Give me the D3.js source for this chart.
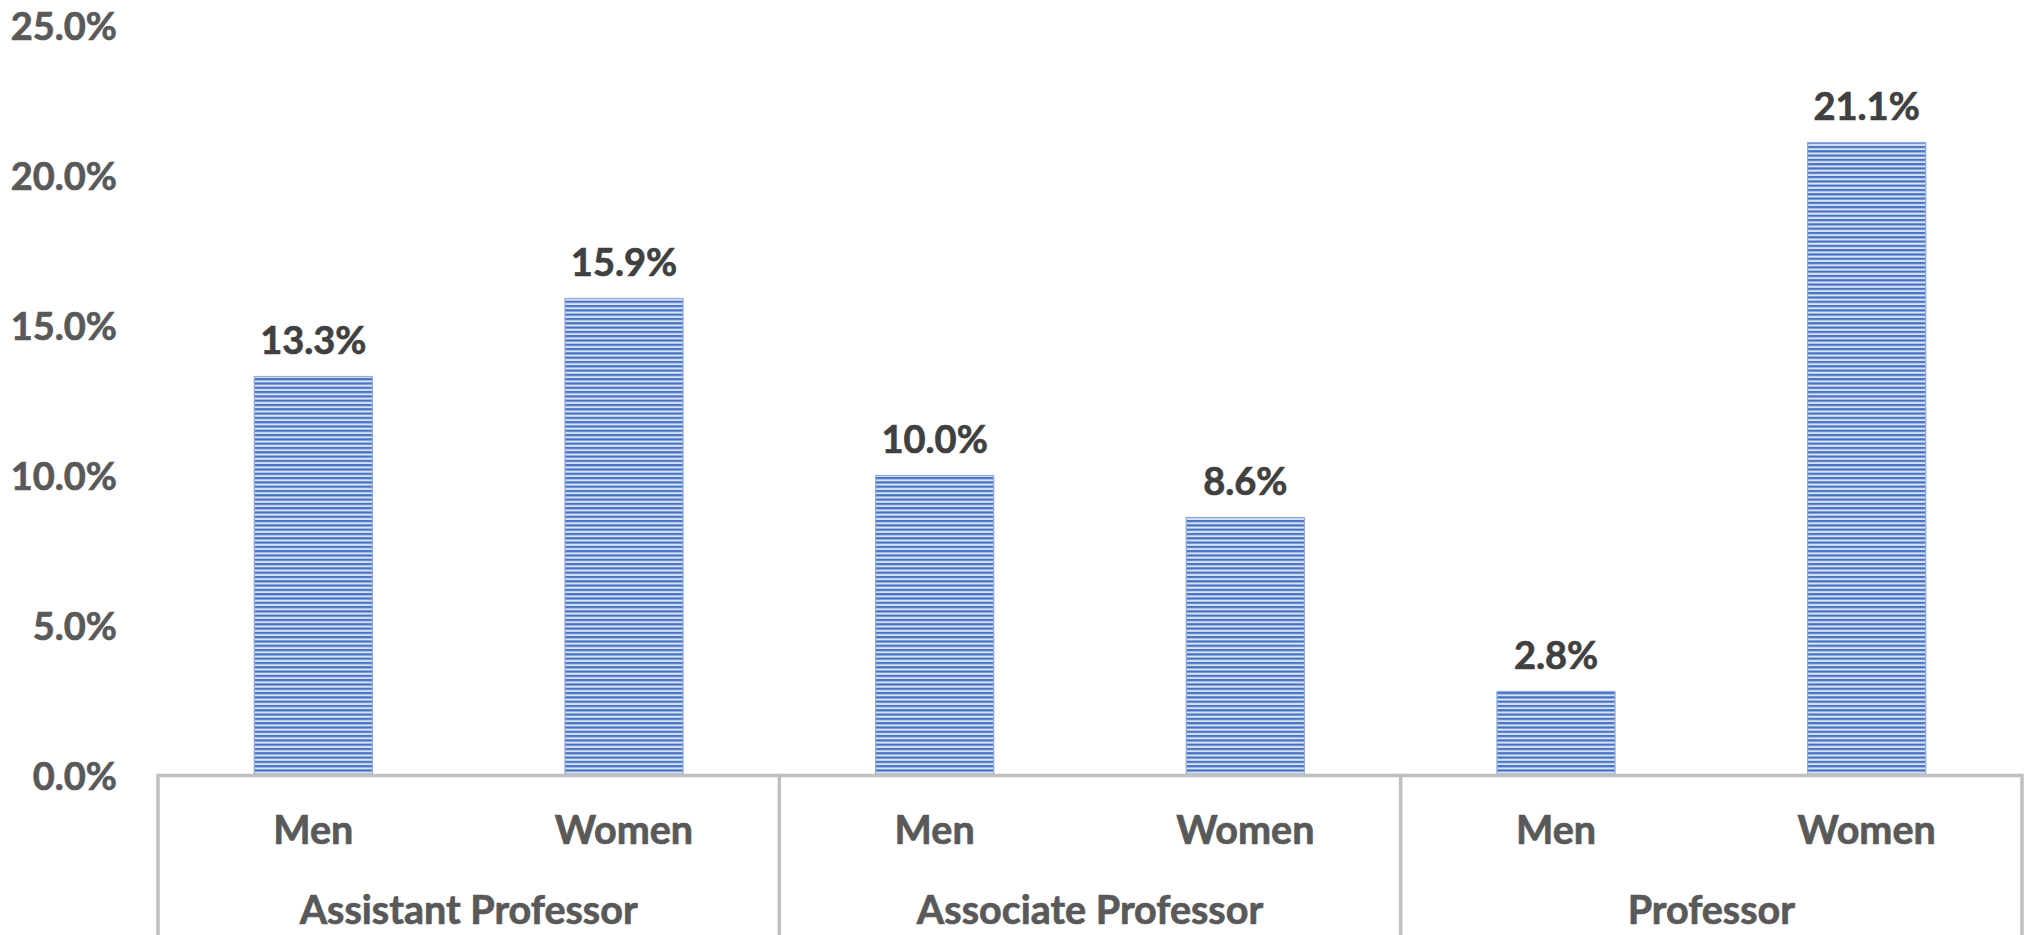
<!DOCTYPE html>
<html>
<head>
<meta charset="utf-8">
<script src="https://cdn.jsdelivr.net/npm/d3@7"></script>
<style>
  body { margin: 0; background: #fff; }
  text { font-family: Lato, 'Open Sans', sans-serif; font-weight: 700; }
</style>
</head>
<body>
<div id="chart"></div>
<script>
const ranks = ['Assistant Professor', 'Associate Professor', 'Professor'];
const genders = ['Men', 'Women'];
const menValues = [0.133, 0.100, 0.028];
const womenValues = [0.159, 0.086, 0.211];
const yTicks = [0, 0.05, 0.10, 0.15, 0.20, 0.25];

const width = 2030;
const height = 935;
const margin = {top: 25.5, right: 8, bottom: 159.5, left: 158};
const innerWidth = width - margin.left - margin.right;
const innerHeight = height - margin.top - margin.bottom;

const bars = [];
ranks.forEach((r, i) => {
    bars.push({rank: r, gender: 'Men', value: menValues[i]});
    bars.push({rank: r, gender: 'Women', value: womenValues[i]});
});

const svg = d3.select('#chart')
    .append('svg')
        .attr('width', width)
        .attr('height', height);

// striped fill like the excel pattern
const pat = svg.append('defs')
    .append('pattern')
        .attr('id', 'stripes')
        .attr('patternUnits', 'userSpaceOnUse')
        .attr('width', 10)
        .attr('height', 4.3);
pat.append('rect')
    .attr('width', 10).attr('height', 4.3)
    .attr('fill', '#dae3f3');
pat.append('rect')
    .attr('width', 10).attr('height', 2.2)
    .attr('fill', '#4472c4');

const g = svg.append('g')
    .attr('transform', `translate(${margin.left},${margin.top})`);

const x0 = d3.scaleBand()
    .domain(ranks)
    .range([0, innerWidth]);

const x1 = d3.scaleBand()
    .domain(genders)
    .range([0, x0.bandwidth()])
    .paddingInner(0.62)
    .paddingOuter(0.31);

const y = d3.scaleLinear()
    .domain([0, 0.25])
    .range([innerHeight, 0]);

const numSize = '38px';
const wordSize = '39.5px';

// y axis labels only
const yAxis = g.append('g')
    .attr('transform', 'translate(-38,0)')
    .call(d3.axisLeft(y).tickValues(yTicks).tickFormat(d3.format('.1%')).tickSize(0));
yAxis.select('.domain').remove();
yAxis.selectAll('text')
    .attr('fill', '#595959')
    .attr('stroke', '#595959')
    .attr('stroke-width', 0.7)
    .style('font-size', numSize)
    .style('font-family', 'Lato, sans-serif')
    .attr('dy', '0.36em');

// bars
g.selectAll('.bar')
    .data(bars)
    .enter()
    .append('rect')
        .attr('class', 'bar')
        .attr('x', d => x0(d.rank) + x1(d.gender))
        .attr('y', d => y(d.value))
        .attr('width', x1.bandwidth())
        .attr('height', d => innerHeight - y(d.value))
        .attr('fill', 'url(#stripes)')
        .attr('stroke', '#8faadc')
        .attr('stroke-width', 1.2);

// value labels
g.selectAll('.val')
    .data(bars)
    .enter()
    .append('text')
        .attr('class', 'val')
        .attr('x', d => x0(d.rank) + x1(d.gender) + x1.bandwidth() / 2)
        .attr('y', d => y(d.value) - 23)
        .attr('text-anchor', 'middle')
        .attr('fill', '#404040')
        .attr('stroke', '#404040')
        .attr('stroke-width', 0.7)
        .style('font-size', numSize)
        .text(d => d3.format('.1%')(d.value));

// category axis: baseline + group dividers
const lineColor = '#bfbfbf';
g.append('line')
    .attr('x1', 0).attr('x2', innerWidth)
    .attr('y1', innerHeight).attr('y2', innerHeight)
    .attr('stroke', lineColor)
    .attr('stroke-width', 3.5);

const dividers = ranks.map(r => x0(r)).concat([innerWidth]);
g.selectAll('.divider')
    .data(dividers)
    .enter()
    .append('line')
        .attr('class', 'divider')
        .attr('x1', d => d).attr('x2', d => d)
        .attr('y1', innerHeight - 1.75).attr('y2', height)
        .attr('stroke', lineColor)
        .attr('stroke-width', 3.5);

g.selectAll('.glabel')
    .data(bars)
    .enter()
    .append('text')
        .attr('class', 'glabel')
        .attr('x', d => x0(d.rank) + x1(d.gender) + x1.bandwidth() / 2)
        .attr('y', innerHeight + 68.5)
        .attr('text-anchor', 'middle')
        .attr('fill', '#595959')
        .attr('stroke', '#595959')
        .attr('stroke-width', 0.7)
        .style('font-size', wordSize)
        .text(d => d.gender);

g.selectAll('.rlabel')
    .data(ranks)
    .enter()
    .append('text')
        .attr('class', 'rlabel')
        .attr('x', d => x0(d) + x0.bandwidth() / 2)
        .attr('y', innerHeight + 148.5)
        .attr('text-anchor', 'middle')
        .attr('fill', '#595959')
        .attr('stroke', '#595959')
        .attr('stroke-width', 0.7)
        .style('font-size', wordSize)
        .text(d => d);
</script>
</body>
</html>
